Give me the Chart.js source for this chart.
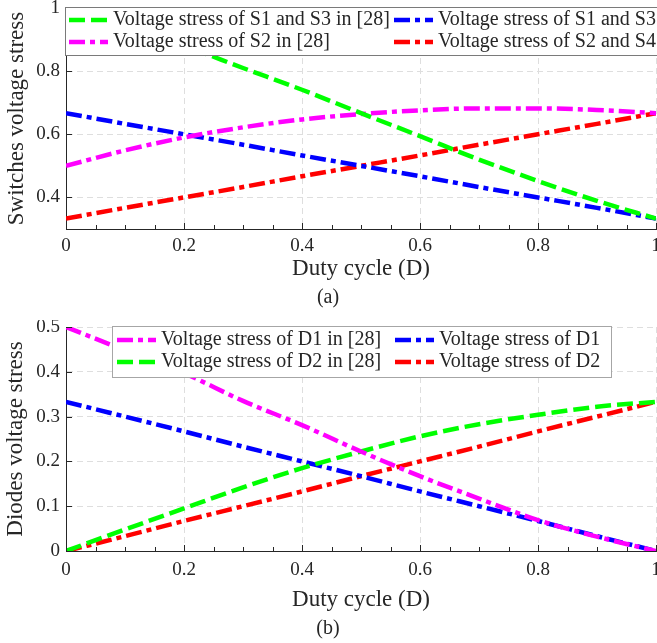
<!DOCTYPE html>
<html>
<head>
<meta charset="utf-8">
<script src="https://cdn.jsdelivr.net/npm/chart.js@4.4.0/dist/chart.umd.min.js"></script>
<style>
  html, body { margin: 0; padding: 0; background: #fff; }
  canvas { display: block; }
</style>
</head>
<body>
<canvas id="chartA" width="657" height="320"></canvas>
<canvas id="chartB" width="657" height="323"></canvas>
<script>
// duty cycle samples (x axis)
const duty = [0, 0.1, 0.2, 0.3, 0.4, 0.5, 0.6, 0.7, 0.8, 0.9, 1];

// (a) switches voltage stress
const s13Ref = [1.0, 0.94, 0.88, 0.81, 0.741, 0.667, 0.594, 0.52, 0.452, 0.389, 0.333];
const s2Ref  = [0.5, 0.549, 0.59, 0.622, 0.647, 0.664, 0.676, 0.682, 0.682, 0.677, 0.667];
const s13    = [0.667, 0.633, 0.6, 0.567, 0.533, 0.5, 0.467, 0.433, 0.4, 0.367, 0.333];
const s24    = [0.333, 0.367, 0.4, 0.433, 0.467, 0.5, 0.533, 0.567, 0.6, 0.633, 0.667];

// (b) diodes voltage stress
const d1Ref = [0.5, 0.448, 0.397, 0.335, 0.281, 0.222, 0.167, 0.117, 0.069, 0.032, 0];
const d2Ref = [0, 0.048, 0.095, 0.142, 0.185, 0.222, 0.256, 0.283, 0.304, 0.322, 0.333];
const d1    = [0.333, 0.3, 0.267, 0.233, 0.2, 0.167, 0.133, 0.1, 0.067, 0.033, 0];
const d2    = [0, 0.033, 0.067, 0.1, 0.133, 0.167, 0.2, 0.233, 0.267, 0.3, 0.333];

// ticks
const xMajorTicks = [0, 0.2, 0.4, 0.6, 0.8, 1];
const xMinorTicks = [0.05, 0.1, 0.15, 0.25, 0.3, 0.35, 0.45, 0.5, 0.55, 0.65, 0.7, 0.75, 0.85, 0.9, 0.95];
const yTicksA = [0.4, 0.6, 0.8, 1];
const yTicksB = [0, 0.1, 0.2, 0.3, 0.4, 0.5];

const SERIF = "'Liberation Serif', 'Times New Roman', serif";
const INK = '#262626';
const DASH = [16, 6];
const DASHDOT = [16, 5, 5, 5];

const pts = ys => duty.map((x, i) => ({ x: x, y: ys[i] }));
const fmt = v => String(+(+v).toFixed(2));

const line = (label, ys, color, dash) => ({
  label: label,
  data: pts(ys),
  borderColor: color,
  borderWidth: 4.5,
  borderDash: dash,
  borderCapStyle: 'butt',
  pointRadius: 0,
  fill: false,
  cubicInterpolationMode: 'monotone'
});

// MATLAB style ticks pointing into the plot
const inwardTicks = {
  id: 'inwardTicks',
  afterDatasetsDraw(chart) {
    const { ctx, chartArea: a, scales: { x, y } } = chart;
    ctx.save();
    ctx.strokeStyle = INK;
    ctx.lineWidth = 1;
    ctx.beginPath();
    x.ticks.forEach(t => {
      const px = Math.round(x.getPixelForValue(t.value)) + 0.5;
      ctx.moveTo(px, a.bottom); ctx.lineTo(px, a.bottom - 6);
    });
    xMinorTicks.forEach(v => {
      const px = Math.round(x.getPixelForValue(v)) + 0.5;
      ctx.moveTo(px, a.bottom); ctx.lineTo(px, a.bottom - 4);
    });
    y.ticks.forEach(t => {
      const py = Math.round(y.getPixelForValue(t.value)) + 0.5;
      ctx.moveTo(a.left, py); ctx.lineTo(a.left + 6, py);
    });
    ctx.stroke();
    ctx.restore();
  }
};

// boxed legend drawn over the plot area
const boxLegend = {
  id: 'boxLegend',
  afterDatasetsDraw(chart, args, o) {
    const ctx = chart.ctx;
    ctx.save();
    ctx.fillStyle = '#fff';
    ctx.fillRect(o.x, o.y, o.w, o.h);
    ctx.strokeStyle = o.border;
    ctx.lineWidth = 1;
    ctx.strokeRect(o.x + 0.5, o.y + 0.5, o.w, o.h);
    o.order.forEach((di, k) => {
      const ds = chart.data.datasets[di];
      const cx = o.colX[k % 2];
      const cy = o.rowY[Math.floor(k / 2)];
      ctx.setLineDash(ds.borderDash);
      ctx.lineCap = 'butt';
      ctx.lineWidth = ds.borderWidth;
      ctx.strokeStyle = ds.borderColor;
      ctx.beginPath();
      ctx.moveTo(cx, cy); ctx.lineTo(cx + 39, cy);
      ctx.stroke();
      ctx.setLineDash([]);
      ctx.fillStyle = INK;
      ctx.font = '20px ' + SERIF;
      ctx.textBaseline = 'middle';
      ctx.textAlign = 'left';
      ctx.fillText(ds.label, cx + 44, cy);
    });
    ctx.restore();
  }
};

function makeChart(id, datasets, yMin, yMax, yTicks, yTitle, caption, legendOpts, lay) {
  return new Chart(document.getElementById(id), {
    type: 'line',
    data: { datasets: datasets },
    plugins: [inwardTicks, boxLegend],
    options: {
      responsive: false,
      animation: false,
      layout: { padding: { top: lay.top, bottom: lay.bottom, left: 0, right: 1 } },
      plugins: {
        legend: { display: false },
        tooltip: { enabled: false },
        title: {
          display: true, position: 'bottom', text: caption, color: INK,
          font: { family: SERIF, size: 20, weight: 'normal' },
          padding: { top: 0, bottom: 0 }
        },
        boxLegend: legendOpts
      },
      scales: {
        x: {
          type: 'linear', min: 0, max: 1,
          afterBuildTicks: s => { s.ticks = xMajorTicks.map(v => ({ value: v })); },
          afterFit: s => { s.height = lay.xHeight; s.paddingLeft = 0; s.paddingRight = 0; },
          grid: { color: '#dedede', lineWidth: 1, drawTicks: false },
          border: { display: true, color: INK, width: 1, dash: [6, 4] },
          ticks: {
            color: INK, font: { family: SERIF, size: 19 }, padding: lay.xTickPad,
            maxRotation: 0, autoSkip: false, callback: fmt
          },
          title: {
            display: true, text: 'Duty cycle (D)', color: INK,
            font: { family: SERIF, size: 23 }, padding: { top: 0, bottom: lay.xTitlePad }
          }
        },
        y: {
          type: 'linear', min: yMin, max: yMax,
          afterBuildTicks: s => { s.ticks = yTicks.map(v => ({ value: v })); },
          afterFit: s => { s.width = 66; s.paddingTop = 0; s.paddingBottom = 0; },
          grid: { color: '#dedede', lineWidth: 1, drawTicks: false },
          border: { display: true, color: INK, width: 1, dash: [6, 4] },
          ticks: { color: INK, font: { family: SERIF, size: 19 }, padding: 6, callback: fmt },
          title: {
            display: true, text: yTitle, color: INK,
            font: { family: SERIF, size: 23 }, padding: { top: lay.yTitlePad, bottom: 0 }
          }
        }
      }
    }
  });
}

makeChart('chartA', [
  line('Voltage stress of S1 and S3 in [28]', s13Ref, '#00ff00', DASH),
  line('Voltage stress of S2 in [28]', s2Ref, '#ff00ff', DASHDOT),
  line('Voltage stress of S1 and S3', s13, '#0000ff', DASHDOT),
  line('Voltage stress of S2 and S4', s24, '#ff0000', DASHDOT)
], 0.3, 1, yTicksA, 'Switches voltage stress', '(a)',
  { x: 65, y: 7, w: 600, h: 48, border: '#7a7a7a', colX: [69, 394], rowY: [20, 42], order: [0, 2, 1, 3] },
  { top: 8, bottom: 10, xHeight: 57, xTickPad: 6, xTitlePad: 3, yTitlePad: 3 });

makeChart('chartB', [
  line('Voltage stress of D1 in [28]', d1Ref, '#ff00ff', DASHDOT),
  line('Voltage stress of D2 in [28]', d2Ref, '#00ff00', DASH),
  line('Voltage stress of D1', d1, '#0000ff', DASHDOT),
  line('Voltage stress of D2', d2, '#ff0000', DASHDOT)
], 0, 0.5, yTicksB, 'Diodes voltage stress', '(b)',
  { x: 112, y: 6, w: 499, h: 51, border: '#a6a6a6', colX: [117, 395], rowY: [20, 42], order: [0, 2, 1, 3] },
  { top: 7, bottom: 2, xHeight: 66, xTickPad: 8, xTitlePad: 3, yTitlePad: 2 });
</script>
</body>
</html>
